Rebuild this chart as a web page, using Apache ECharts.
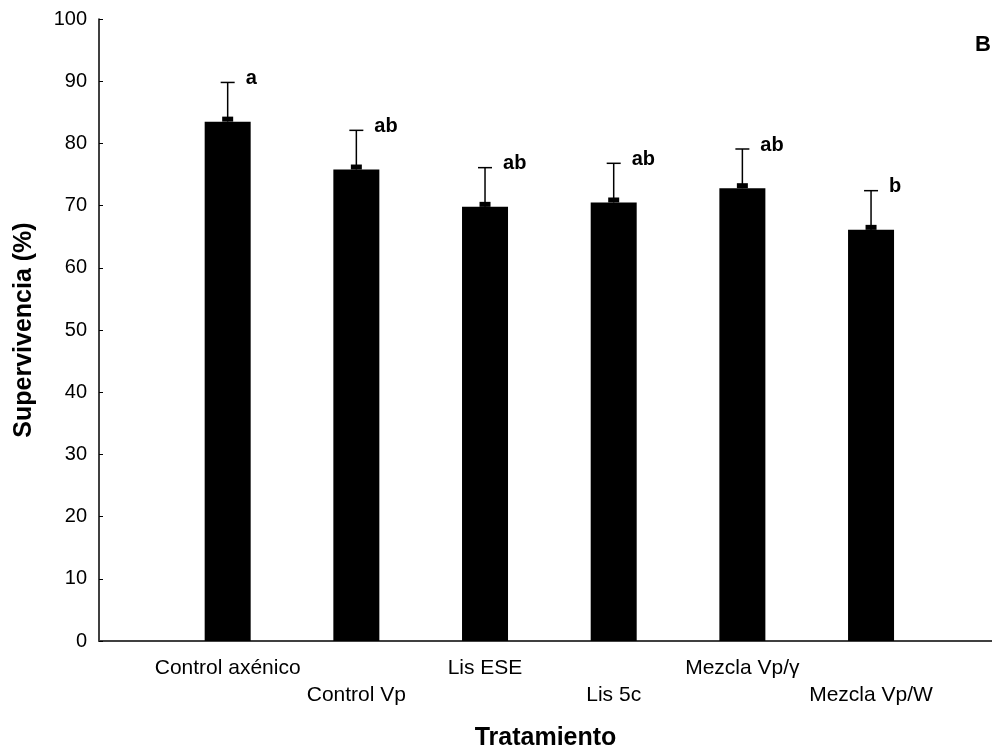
<!DOCTYPE html>
<html>
<head>
<meta charset="utf-8">
<script src="https://cdn.jsdelivr.net/npm/echarts@6/dist/echarts.min.js"></script>
<style>
  html, body { margin: 0; padding: 0; background: #fff; }
  #chart { width: 992px; height: 749px; }
</style>
</head>
<body>
<div id="chart"></div>
<script>
// Treatments (placed at x = 1..6 on a numeric axis)
const categories = ['Control axénico', 'Control Vp', 'Lis ESE', 'Lis 5c', 'Mezcla Vp/γ', 'Mezcla Vp/W'];
// Mean survival (%)
const survival = [83.5, 75.8, 69.8, 70.5, 72.8, 66.1];
// Standard error (%)
const errors = [6.3, 6.3, 6.3, 6.3, 6.3, 6.3];
// Significance letters
const letters = ['a', 'ab', 'ab', 'ab', 'ab', 'b'];
// Y axis ticks
const yTicks = { min: 0, max: 100, step: 10 };

const FONT = 'Liberation Sans, Arial, sans-serif';

const barData = survival.map((v, i) => [i + 1, v]);
const errData = survival.map((v, i) => [i + 1, v, v + errors[i], letters[i]]);

const chart = echarts.init(document.getElementById('chart'), null, { renderer: 'canvas' });

chart.setOption({
  animation: false,
  backgroundColor: '#ffffff',
  grid: { left: 99, right: 0, top: 19, bottom: 108, containLabel: false, outerBoundsMode: 'none' },
  xAxis: {
    type: 'value',
    min: 0,
    max: 6.94,
    interval: 1,
    name: 'Tratamiento',
    nameLocation: 'middle',
    nameGap: 85,
    nameTextStyle: { fontFamily: FONT, fontSize: 25, fontWeight: 'bold', color: '#000' },
    axisLine: { show: true, lineStyle: { color: '#404040', width: 2 } },
    axisTick: { show: false },
    splitLine: { show: false },
    axisLabel: {
      show: true,
      margin: 14,
      showMaxLabel: false,
      fontFamily: FONT,
      fontSize: 21,
      color: '#000',
      lineHeight: 27,
      formatter: function (val) {
        const idx = Math.round(val) - 1;
        if (Math.abs(val - Math.round(val)) > 1e-6 || idx < 0 || idx >= categories.length) return '';
        // alternate rows so the long names don't collide
        return idx % 2 === 0 ? categories[idx] : '\n' + categories[idx];
      }
    }
  },
  yAxis: {
    type: 'value',
    min: yTicks.min,
    max: yTicks.max,
    interval: yTicks.step,
    name: 'Supervivencia (%)',
    nameLocation: 'middle',
    nameGap: 62,
    nameRotate: 90,
    nameTextStyle: { fontFamily: FONT, fontSize: 25, fontWeight: 'bold', color: '#000' },
    axisLine: { show: true, lineStyle: { color: '#000', width: 1.5 } },
    axisTick: { show: true, inside: true, length: 4, lineStyle: { color: '#000', width: 1 } },
    splitLine: { show: false },
    axisLabel: { margin: 12, fontFamily: FONT, fontSize: 20, color: '#000' }
  },
  graphic: [{
    type: 'text',
    right: 1,
    top: 34,
    style: { text: 'B', fontFamily: FONT, fontSize: 22, fontWeight: 'bold', fill: '#000' }
  }],
  series: [
    {
      type: 'bar',
      data: barData,
      barWidth: 46,
      itemStyle: { color: '#000' },
      z: 2
    },
    {
      type: 'custom',
      data: errData,
      z: 3,
      renderItem: function (params, api) {
        const x = api.value(0);
        const base = api.coord([x, api.value(1)]);
        const top = api.coord([x, api.value(2)]);
        const cx = base[0];
        return {
          type: 'group',
          children: [
            // small block sitting on the bar
            { type: 'rect', shape: { x: cx - 5.5, y: base[1] - 5, width: 11, height: 5 }, style: { fill: '#000' } },
            // whisker
            { type: 'line', shape: { x1: cx, y1: base[1], x2: cx, y2: top[1] }, style: { stroke: '#000', lineWidth: 1.5 } },
            // cap
            { type: 'line', shape: { x1: cx - 7, y1: top[1], x2: cx + 7, y2: top[1] }, style: { stroke: '#000', lineWidth: 1.5 } },
            // letter
            {
              type: 'text',
              x: cx + 18,
              y: top[1] - 4,
              style: {
                text: api.value(3),
                fontFamily: FONT, fontSize: 20, fontWeight: 'bold', fill: '#000',
                textAlign: 'left', textVerticalAlign: 'middle'
              }
            }
          ]
        };
      }
    }
  ]
});
</script>
</body>
</html>
